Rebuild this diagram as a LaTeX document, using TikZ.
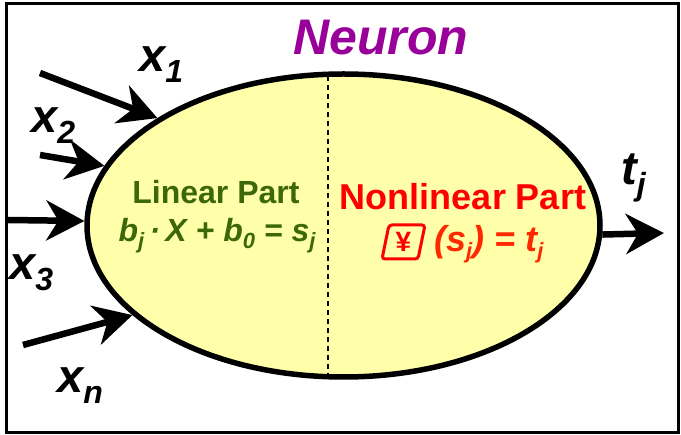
\documentclass[tikz,border=0pt]{standalone}
\usepackage{fontspec}
\setmainfont{Liberation Sans}
\usetikzlibrary{shapes.geometric,arrows.meta}
\definecolor{neurpurple}{RGB}{153,0,153}
\definecolor{lingreen}{RGB}{60,104,10}
\definecolor{nlred}{RGB}{255,0,0}
\definecolor{nlorange}{RGB}{255,40,0}
\definecolor{cellfill}{RGB}{255,255,170}
\newcommand{\biglbl}[2]{{\fontsize{47}{47}\selectfont\bfseries\itshape #1}\raisebox{-11pt}{\fontsize{32}{32}\selectfont\bfseries\itshape #2}}
\newcommand{\smsub}[1]{\raisebox{-7pt}{\fontsize{22}{22}\selectfont #1}}
\begin{document}
\begin{tikzpicture}[x=1pt,y=-1pt,
  inarrow/.style={line width=6.5pt, -{Stealth[length=38pt 0 0,width=40pt 0 0,inset=12pt 0]}},
  lab/.style={inner sep=0, anchor=base west}]
\useasboundingbox (0,0) rectangle (681,435);
\draw[line width=3pt] (6.5,3.5) rectangle (678.5,432.5);
\node[ellipse, draw, line width=5.5pt, fill=cellfill, minimum width=513pt, minimum height=303pt, inner sep=0] (neuron) at (343.5,225.5) {};
\coordinate (dtop) at (328,76);
\coordinate (dbot) at (328,376);
\draw[line width=1.5pt, dash pattern=on 5pt off 4pt] (dtop) -- (dbot);
% inputs
\coordinate (s1) at (40,73);
\coordinate (s2) at (40,155);
\coordinate (s3) at (8,220);
\coordinate (sn) at (23,345);
\coordinate (tout) at (664,233);
\draw[inarrow] (s1) -- (neuron.150);
\draw[inarrow] (s2) -- (neuron.166);
\draw[inarrow] (s3) -- (neuron.179);
\draw[inarrow] (sn) -- (neuron.203);
\draw[inarrow] (neuron.358) -- (tout);
% labels
\node[lab] (lx1) at (139,72) {\biglbl{x}{1}};
\node[lab] (lx2) at (31,133) {\biglbl{x}{2}};
\node[lab] (lx3) at (9,280) {\biglbl{x}{3}};
\node[lab] (lxn) at (57,393) {\biglbl{x}{n}};
\node[lab] (ltj) at (621,185) {\biglbl{t}{j}};
\node[inner sep=0, anchor=base, text=neurpurple] (title) at (381,55) {\fontsize{50}{50}\selectfont\bfseries\itshape Neuron};
% linear part
\node[inner sep=0, anchor=base, text=lingreen] (lin1) at (216,204) {\fontsize{32}{32}\selectfont\bfseries Linear Part};
\node[inner sep=0, anchor=base, text=lingreen] (lin2) at (217,242) {\fontsize{32}{32}\selectfont\bfseries\itshape b\smsub{j}\,·\,X + b\smsub{0} = s\smsub{j}};
% nonlinear part
\node[inner sep=0, anchor=base, text=nlred] (nl1) at (463,210) {\fontsize{36}{36}\selectfont\bfseries Nonlinear Part};
\node[inner sep=0, anchor=base west, text=nlorange] (nl2) at (434,252) {\fontsize{36}{36}\selectfont\bfseries\itshape (s\smsub{j}) = t\smsub{j}};
\draw[nlred, line width=3pt, rounded corners=3pt] (389,225) -- (425,225) -- (418,259) -- (382,259) -- cycle;
\node[inner sep=0, text=nlred] (sym) at (403.5,242) {\fontsize{28}{28}\selectfont\bfseries ¥};
\end{tikzpicture}
\end{document}
